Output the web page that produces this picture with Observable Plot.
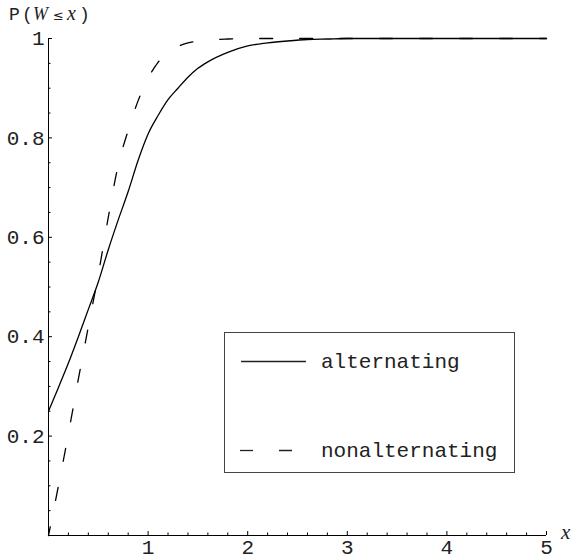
<!DOCTYPE html>
<html><head><meta charset="utf-8">
<script src="https://cdn.jsdelivr.net/npm/d3@7"></script>
<script src="https://cdn.jsdelivr.net/npm/@observablehq/plot@0.6"></script>
<style>html,body{margin:0;padding:0;background:#fff;} svg{display:block}</style>
</head><body><div id="chart"></div>
<script>
// alternating (solid)
const altX = [0, 0.1, 0.2, 0.3, 0.4, 0.5, 0.6, 0.7, 0.8, 0.9, 1.0, 1.1, 1.2, 1.3, 1.4, 1.5, 1.6, 1.8, 2.0, 2.2, 2.4, 2.6, 2.8, 3.0, 3.5, 4.0, 4.5, 5.0];
const altY = [0.25, 0.298, 0.347, 0.40, 0.455, 0.51, 0.575, 0.635, 0.692, 0.755, 0.808, 0.845, 0.877, 0.90, 0.922, 0.94, 0.953, 0.972, 0.985, 0.991, 0.995, 0.998, 0.999, 1, 1, 1, 1, 1];
// nonalternating (dashed)
const nonX = [0, 0.1, 0.2, 0.3, 0.4, 0.5, 0.6, 0.7, 0.8, 0.9, 1.0, 1.1, 1.2, 1.3, 1.4, 1.5, 1.6, 1.8, 2.0, 2.5, 3.0, 4.0, 5.0];
const nonY = [0, 0.10, 0.205, 0.315, 0.42, 0.525, 0.64, 0.745, 0.815, 0.875, 0.92, 0.952, 0.972, 0.984, 0.991, 0.995, 0.997, 0.999, 1, 1, 1, 1, 1];

const xTicks = [1, 2, 3, 4, 5];
const yTicks = [0.2, 0.4, 0.6, 0.8, 1];
const xMinor = d3.range(1, 26).map(i => i / 5);
const yMinor = d3.range(1, 21).map(i => i / 20);
const seriesNames = ["alternating", "nonalternating"];

const alt = altX.map((x, i) => ({x, y: altY[i]}));
const non = nonX.map((x, i) => ({x, y: nonY[i]}));

const mono = "'Liberation Mono', 'DejaVu Sans Mono', monospace";
const serif = "'Liberation Serif', 'DejaVu Serif', serif";
const ink = "#222";

const plot = Plot.plot({
  width: 572, height: 559,
  marginLeft: 48, marginRight: 26, marginTop: 38, marginBottom: 24,
  x: {domain: [0, 5]},
  y: {domain: [0, 1]},
  style: {fontFamily: mono, fontSize: "21px", color: ink, background: "#fff"},
  marks: [
    Plot.ruleX([0], {y1: 0, y2: 1, stroke: "#000", strokeWidth: 1}),
    Plot.ruleY([0], {x1: 0, x2: 5, stroke: "#000", strokeWidth: 1}),
    Plot.ruleY(yMinor, {y: d => d, x1: 0, x2: d => (Math.abs(d * 5 - Math.round(d * 5)) < 1e-9 ? 0.04 : 0.025), stroke: "#000", strokeWidth: 1}),
    Plot.ruleX(xMinor, {x: d => d, y1: 0, y2: d => (Math.abs(d - Math.round(d)) < 1e-9 ? 0.008 : 0.005), stroke: "#000", strokeWidth: 1}),
    Plot.axisX(xTicks, {tickSize: 0, tickPadding: 4, label: null, fontSize: 21, fontFamily: mono, fill: ink}),
    Plot.axisY(yTicks, {tickSize: 0, tickPadding: 4, label: null, fontSize: 21, fontFamily: mono, fill: ink,
      tickFormat: d => d === 1 ? "1" : d.toFixed(1)}),
    Plot.line(alt, {x: "x", y: "y", stroke: "#000", strokeWidth: 1.3, curve: "monotone-x"}),
    Plot.line(non, {x: "x", y: "y", stroke: "#000", strokeWidth: 1.3, curve: "monotone-x",
      strokeDasharray: "13,27", strokeDashoffset: 4})
  ]
});
document.getElementById("chart").appendChild(plot);

const svg = d3.select(plot);
// top label P(W ≤ x)
const t = svg.append("text").attr("y", 20).attr("fill", ink).attr("font-size", 18).attr("text-anchor", "start");
t.append("tspan").attr("x", 9).attr("font-family", mono).text("P");
t.append("tspan").attr("x", 22).attr("font-family", mono).text("(");
t.append("tspan").attr("x", 33).attr("font-family", serif).attr("font-style", "italic").text("W");
t.append("tspan").attr("x", 53).attr("font-family", "'DejaVu Sans', sans-serif").attr("font-size", 13).text("≤");
t.append("tspan").attr("x", 67).attr("font-family", serif).attr("font-style", "italic").attr("font-size", 20).text("x");
t.append("tspan").attr("x", 79).attr("font-family", mono).text(")");
// x axis label
svg.append("text").attr("x", 561).attr("y", 539).attr("font-family", serif).attr("text-anchor", "start")
  .attr("font-style", "italic").attr("font-size", 21).attr("fill", ink).text("x");

// legend
const lg = svg.append("g").attr("text-anchor", "start");
lg.append("rect").attr("x", 224.5).attr("y", 332.5).attr("width", 290).attr("height", 140)
  .attr("fill", "#fff").attr("stroke", "#444").attr("stroke-width", 1);
lg.append("line").attr("x1", 241).attr("x2", 306).attr("y1", 361.5).attr("y2", 361.5)
  .attr("stroke", "#222").attr("stroke-width", 1.3);
lg.append("line").attr("x1", 240).attr("x2", 306).attr("y1", 450.5).attr("y2", 450.5)
  .attr("stroke", "#222").attr("stroke-width", 1.3).attr("stroke-dasharray", "13,26");
lg.append("text").attr("x", 321).attr("y", 361.5).attr("dy", "0.32em").attr("font-family", mono)
  .attr("font-size", 21).attr("fill", ink).text(seriesNames[0]);
lg.append("text").attr("x", 321).attr("y", 450.5).attr("dy", "0.32em").attr("font-family", mono)
  .attr("font-size", 21).attr("fill", ink).text(seriesNames[1]);
</script>
</body></html>
